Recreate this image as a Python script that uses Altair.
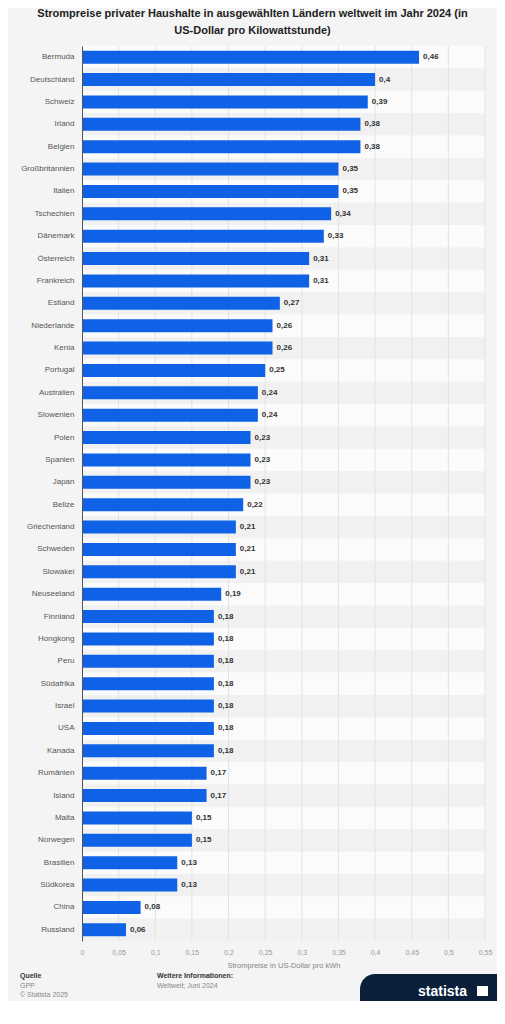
import altair as alt
import pandas as pd

countries = ["Bermuda", "Deutschland", "Schweiz", "Irland", "Belgien", "Großbritannien", "Italien",
             "Tschechien", "Dänemark", "Österreich", "Frankreich", "Estland", "Niederlande", "Kenia",
             "Portugal", "Australien", "Slowenien", "Polen", "Spanien", "Japan", "Belize",
             "Griechenland", "Schweden", "Slowakei", "Neuseeland", "Finnland", "Hongkong", "Peru",
             "Südafrika", "Israel", "USA", "Kanada", "Rumänien", "Island", "Malta", "Norwegen",
             "Brasilien", "Südkorea", "China", "Russland"]
prices = [0.46, 0.40, 0.39, 0.38, 0.38, 0.35, 0.35, 0.34, 0.33, 0.31, 0.31, 0.27, 0.26, 0.26,
          0.25, 0.24, 0.24, 0.23, 0.23, 0.23, 0.22, 0.21, 0.21, 0.21, 0.19, 0.18, 0.18, 0.18,
          0.18, 0.18, 0.18, 0.18, 0.17, 0.17, 0.15, 0.15, 0.13, 0.13, 0.08, 0.06]
tick_values = [0, 0.05, 0.1, 0.15, 0.2, 0.25, 0.3, 0.35, 0.4, 0.45, 0.5, 0.55]

W, H = 403, 895
FONT = "Liberation Sans"

df = pd.DataFrame({
    "land": countries,
    "preis": prices,
    "label": [f"{v:g}".replace(".", ",") for v in prices],
    "parity": [i % 2 for i in range(len(countries))],
})
grid_df = pd.DataFrame({"preis": tick_values[1:]})

y_enc = alt.Y("land:N", sort=countries, title=None,
              scale=alt.Scale(paddingInner=0, paddingOuter=0),
              axis=alt.Axis(labelFont=FONT, labelFontSize=8, labelColor="#555555",
                            labelPadding=8, ticks=False, domain=True, domainColor="#555555",
                            domainWidth=1, grid=False))
x_scale = alt.Scale(domain=[0, 0.55], nice=False, zero=True)
x_axis = alt.Axis(values=tick_values, grid=False, ticks=False, domain=False,
                  labelOverlap=False, labelBound=False, labelFlush=False,
                  labelExpr="replace(format(datum.value, '.2~f'), '.', ',')",
                  labelFont=FONT, labelFontSize=7, labelColor="#999999",
                  labelPadding=7, titleFont=FONT, titleFontSize=7.5,
                  titleFontWeight="normal", titleColor="#888888", titlePadding=6)
x_enc = alt.X("preis:Q", scale=x_scale, title="Strompreise in US-Dollar pro kWh", axis=x_axis)

rows = alt.Chart(df).mark_rect().encode(
    y=y_enc,
    x=alt.value(0), x2=alt.value(W),
    color=alt.Color("parity:N", scale=alt.Scale(domain=[0, 1], range=["#fbfbfb", "#f1f1f1"]),
                    legend=None),
)

grid = alt.Chart(grid_df).mark_rule(color="#e3e3e3", strokeWidth=1).encode(
    x=x_enc,
    y=alt.value(0), y2=alt.value(H),
)

bars = alt.Chart(df).mark_bar(size=13, color="#0f62e6").encode(
    y=y_enc,
    x=x_enc,
)

labels = alt.Chart(df).mark_text(align="left", baseline="middle", dx=4, font=FONT,
                                 fontSize=8, fontWeight="bold", color="#333333").encode(
    y=y_enc,
    x=x_enc,
    text="label:N",
)

def note(txt, x, y, bold=False, color="#555555", size=7):
    return alt.Chart(pd.DataFrame({"t": [txt]})).mark_text(
        align="left", baseline="alphabetic", font=FONT, fontSize=size,
        fontWeight="bold" if bold else "normal", color=color
    ).encode(text="t:N", x=alt.value(x), y=alt.value(y))

ox, oy = 82, 46
footer = [
    note("Quelle", 20 - ox, 978 - oy, bold=True, color="#333333"),
    note("GPP", 20 - ox, 988 - oy, color="#888888"),
    note("© Statista 2025", 20 - ox, 997 - oy, color="#888888"),
    note("Weitere Informationen:", 157 - ox, 978 - oy, bold=True, color="#333333"),
    note("Weltweit; Juni 2024", 157 - ox, 988 - oy, color="#888888"),
]

logo_bg = alt.Chart(pd.DataFrame({"a": [1]})).mark_rect(
    color="#0b1f3a", cornerRadiusTopLeft=36).encode(
    x=alt.value(360 - ox), x2=alt.value(W + 20), y=alt.value(974 - oy), y2=alt.value(1004 - oy))
logo_line = alt.Chart(pd.DataFrame({"a": [1]})).mark_rule(color="#2f7be8", strokeWidth=2).encode(
    x=alt.value(0 - ox), x2=alt.value(W + 20), y=alt.value(1003 - oy))
logo_txt = note("statista", 418 - ox, 996 - oy, bold=True, color="#ffffff", size=14)
logo_icon = alt.Chart(pd.DataFrame({"a": [1]})).mark_rect(color="#ffffff").encode(
    x=alt.value(477 - ox), x2=alt.value(488 - ox), y=alt.value(986 - oy), y2=alt.value(996 - oy))

chart = alt.layer(rows, grid, bars, labels, *footer, logo_bg, logo_line, logo_txt,
                  logo_icon).properties(
    width=W, height=H,
    background="#f4f4f4",
    padding={"left": 74, "top": 38, "right": 12, "bottom": 60},
    autosize=alt.AutoSizeParams(type="none"),
    title=alt.Title(
        ["Strompreise privater Haushalte in ausgewählten Ländern weltweit im Jahr 2024 (in",
         "US-Dollar pro Kilowattstunde)"],
        font=FONT, fontSize=11, fontWeight="bold", color="#222222",
        anchor="middle", dx=-31, offset=10, lineHeight=17),
).configure_view(stroke=None)

chart.save("out.html", embed_options={"renderer": "svg", "actions": False})
